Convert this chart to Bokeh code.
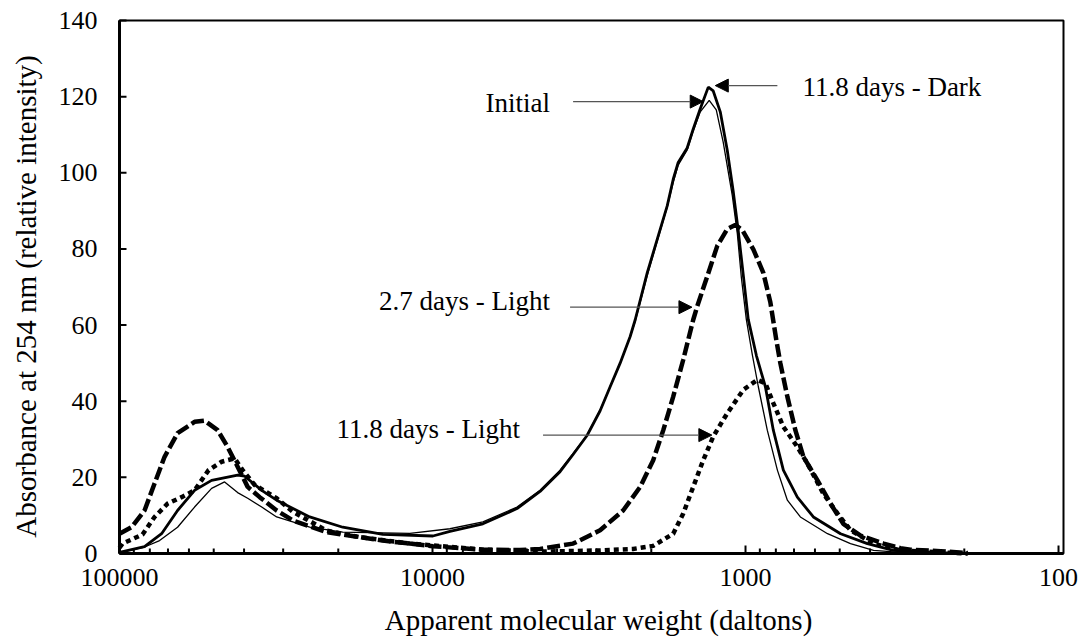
import math
from bokeh.plotting import figure
from bokeh.models import Range1d, Arrow, NormalHead, Label
from bokeh.embed import file_html
from bokeh.resources import INLINE

# ---------------- data ----------------
initial_mw = [100000, 83180, 74470, 65240, 57560, 50780, 46150, 41940, 38950, 35130,
              31470, 24680, 19350, 11810, 8796, 6901, 5370, 4533, 3913, 3555,
              3208, 2914, 2707, 2515, 2336, 2251, 2061, 1915, 1779, 1702,
              1641, 1536, 1469, 1395, 1306, 1240, 1178, 1102, 1062, 1031,
              994, 950, 910, 852, 791, 735, 668, 547, 462, 390, 320, 195]
initial_abs = [0.2, 1.7, 3.4, 6.9, 12.2, 17.1, 18.8, 16.0, 14.5, 12.2,
               9.6, 6.9, 5.6, 5.3, 6.5, 8.3, 12.2, 16.6, 21.9, 26.3,
               31.1, 37.7, 43.8, 50.0, 57.0, 61.0, 73.0, 82.0, 91.0, 97.5,
               102.0, 106.0, 111.0, 116.0, 119.0, 116.5, 108.0, 94.0, 84.0, 72.5,
               61.5, 52.0, 43.8, 32.4, 21.9, 14.0, 9.6, 5.2, 2.6, 0.8, 0.3, 0.0]

dark_mw = [100000, 83180, 73370, 65240, 57560, 50780, 41940, 39820, 35130, 31470,
           24680, 19350, 14410, 9970, 8796, 6901, 5370, 4533, 3913, 3555,
           3208, 2914, 2707, 2515, 2336, 2251, 2061, 1915, 1779, 1702,
           1641, 1536, 1469, 1395, 1315, 1268, 1204, 1144, 1094, 1054,
           1016, 980, 923, 864, 815, 757, 683, 607, 497, 408, 337, 238, 195]
dark_abs = [0.3, 1.8, 5.2, 11.3, 16.6, 19.2, 20.6, 20.3, 16.6, 14.0,
            9.6, 6.9, 5.0, 4.6, 5.8, 7.8, 11.8, 16.3, 21.5, 26.0,
            31.0, 37.5, 43.8, 50.0, 57.0, 61.4, 73.7, 82.5, 91.3, 98.3,
            102.7, 106.5, 111.5, 116.8, 122.5, 121.5, 116.0, 106.0, 95.0, 84.5,
            73.0, 61.5, 52.0, 43.8, 32.4, 21.9, 14.8, 9.6, 5.2, 2.6, 0.8, 0.2, 0.0]

light27_mw = [100000, 91530, 83180, 77270, 71780, 65240, 57560, 53480, 48590, 45140,
              41940, 38950, 35650, 31470, 27970, 21770, 17070, 14410, 11810, 9970,
              6901, 5253, 4533, 3555, 2914, 2460, 2170, 1972, 1831, 1702,
              1581, 1469, 1427, 1325, 1231, 1144, 1078, 1024, 944, 877,
              833, 797, 774, 735, 693, 653, 589, 535, 487, 429,
              362, 320, 297, 238, 195]
light27_abs = [5.2, 6.9, 11.3, 18.4, 25.4, 31.6, 34.6, 34.9, 32.4, 28.0,
               22.8, 17.5, 14.8, 11.3, 8.7, 5.6, 4.3, 3.4, 2.6, 1.9,
               1.0, 0.9, 1.2, 2.6, 6.1, 11.3, 17.5, 24.5, 32.4, 41.2,
               50.9, 61.4, 64.9, 72.8, 80.8, 85.2, 86.3, 85.0, 79.9, 73.7,
               66.0, 56.0, 50.0, 41.2, 32.4, 25.4, 19.2, 13.1, 7.8, 4.7,
               2.6, 1.4, 1.0, 0.6, 0.1]

light118_mw = [100000, 97810, 84420, 77270, 70210, 63340, 57560, 51920, 47180, 42870,
               40430, 36990, 31470, 27970, 21770, 17070, 11810, 6901, 4533, 2914,
               2285, 1972, 1702, 1581, 1469, 1365, 1268, 1178, 1144, 1016,
               917, 864, 815, 757, 683, 634, 564, 508, 462, 390,
               320, 238, 195]
light118_abs = [1.5, 2.6, 5.0, 9.6, 13.1, 14.8, 16.6, 21.9, 24.1, 25.0,
                21.9, 18.0, 14.5, 11.0, 6.0, 4.3, 2.6, 1.0, 0.5, 0.8,
                1.2, 2.0, 5.2, 10.5, 17.5, 24.5, 30.7, 35.1, 36.8, 43.0,
                45.6, 44.7, 39.5, 33.3, 28.0, 23.6, 15.7, 10.5, 6.1, 2.6,
                0.8, 0.3, 0.0]

x_major_ticks = [100000, 10000, 1000, 100]
x_tick_labels = ["100000", "10000", "1000", "100"]
x_minor_ticks = [m * 10 ** k for k in (2, 3, 4) for m in range(2, 10)]
y_ticks = [0, 20, 40, 60, 80, 100, 120, 140]
y_tick_labels = ["0", "20", "40", "60", "80", "100", "120", "140"]
x_title = "Apparent molecular weight (daltons)"
y_title = "Absorbance at 254 nm (relative intensity)"
x_axis_min, x_axis_max = 100000, 96.4     # left / right end of the plotted box
y_axis_min, y_axis_max = 0, 140

# annotation texts and arrow anchors (molecular weight, absorbance)
ann_text = ["Initial", "11.8 days - Dark", "2.7 days - Light", "11.8 days - Light"]
ann_text_x = [4211, 658, 4211, 5253]
ann_text_y = [118.4, 122.5, 66.2, 32.6]
ann_align = ["right", "left", "right", "right"]
arrow_x0 = [3555, 791, 3635, 4435]
arrow_x1 = [1365, 1249, 1483, 1281]
arrow_y = [118.7, 122.9, 64.7, 31.1]

FONT = "'Liberation Serif', 'Times New Roman', Times, serif"

# ---------------- page geometry ----------------
W, H = 1085, 638
BOX_L, BOX_R, BOX_T, BOX_B = 119, 1063, 20, 553        # pixel box of the plot
PXD = (BOX_R - BOX_L) / (math.log10(x_axis_min) - math.log10(x_axis_max))  # px per decade
PXU = (BOX_B - BOX_T) / (y_axis_max - y_axis_min)                          # px per unit

def mw_shift(m, px):          # move a molecular weight px pixels to the right
    return m / 10 ** (px / PXD)

x_lo = mw_shift(x_axis_min, -BOX_L)
x_hi = mw_shift(x_axis_min, W - BOX_L)
y_lo = y_axis_min - (H - BOX_B) / PXU
y_hi = y_axis_min + BOX_B / PXU

p = figure(x_axis_type="log", x_axis_location=None, y_axis_location=None,
           x_range=Range1d(x_lo, x_hi), y_range=Range1d(y_lo, y_hi),
           frame_width=W, frame_height=H,
           min_border=0, min_border_left=0, min_border_right=0,
           min_border_top=0, min_border_bottom=0,
           output_backend="svg", toolbar_location=None)

p.background_fill_color = "white"
p.border_fill_color = "white"
p.outline_line_color = None
p.xgrid.visible = False
p.ygrid.visible = False

# ---------------- series ----------------
p.line(initial_mw, initial_abs, line_color="black", line_width=1.3)
p.line(dark_mw, dark_abs, line_color="black", line_width=2.8)
p.line(light27_mw, light27_abs, line_color="black", line_width=4.5, line_dash="13 4")
p.line(light118_mw, light118_abs, line_color="black", line_width=4.5, line_dash="5 4")

# ---------------- box, axis lines and ticks ----------------
p.quad(left=[x_axis_min], right=[x_axis_max], bottom=[y_axis_min], top=[y_axis_max],
       fill_color=None, line_color="black", line_width=2)
p.segment(x0=[x_axis_min, x_axis_min], y0=[y_axis_min, y_axis_min],
          x1=[x_axis_min, x_axis_max], y1=[y_axis_max, y_axis_min],
          line_color="black", line_width=3)
p.segment(x0=x_major_ticks, y0=[y_axis_min] * len(x_major_ticks),
          x1=x_major_ticks, y1=[y_axis_min + 8 / PXU] * len(x_major_ticks),
          line_color="black", line_width=2)
p.segment(x0=x_minor_ticks, y0=[y_axis_min] * len(x_minor_ticks),
          x1=x_minor_ticks, y1=[y_axis_min + 5 / PXU] * len(x_minor_ticks),
          line_color="black", line_width=2)
p.segment(x0=[x_axis_min] * len(y_ticks), y0=y_ticks,
          x1=[mw_shift(x_axis_min, 7)] * len(y_ticks), y1=y_ticks,
          line_color="black", line_width=2)

# ---------------- tick labels and axis titles ----------------
for t, v in zip(x_tick_labels, x_major_ticks):
    p.add_layout(Label(x=v, y=y_axis_min - 24 / PXU, text=t, text_align="center",
                       text_baseline="middle", text_font=FONT,
                       text_font_size="26px", text_color="black"))
for t, v in zip(y_tick_labels, y_ticks):
    p.add_layout(Label(x=mw_shift(x_axis_min, -22), y=v, text=t, text_align="right",
                       text_baseline="middle", text_font=FONT,
                       text_font_size="26px", text_color="black"))

p.add_layout(Label(x=mw_shift(x_axis_min, 479), y=y_axis_min - 66 / PXU,
                   text=x_title, text_align="center", text_baseline="middle",
                   text_font=FONT, text_font_size="29px", text_color="black"))
p.add_layout(Label(x=mw_shift(x_axis_min, -94), y=y_axis_min + (BOX_B - 296) / PXU,
                   angle=math.pi / 2, text=y_title, text_align="center",
                   text_baseline="middle", text_font=FONT,
                   text_font_size="29px", text_color="black"))

# ---------------- annotations ----------------
for t, tx, ty, al in zip(ann_text, ann_text_x, ann_text_y, ann_align):
    p.add_layout(Label(x=tx, y=ty, text=t, text_align=al, text_baseline="middle",
                       text_font=FONT, text_font_size="27px", text_color="black"))

for x0, x1, yy in zip(arrow_x0, arrow_x1, arrow_y):
    p.add_layout(Arrow(x_start=x0, y_start=yy, x_end=x1, y_end=yy,
                       line_color="#555555", line_width=1.2,
                       end=NormalHead(size=13, fill_color="black", line_color="black")))

open("out.html", "w").write(file_html(p, INLINE))
